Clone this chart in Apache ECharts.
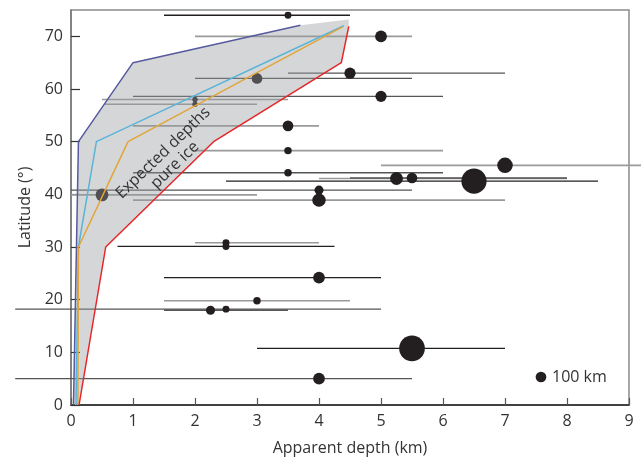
<!DOCTYPE html>
<html>
<head>
<meta charset="utf-8">
<script src="https://cdn.jsdelivr.net/npm/echarts@6/dist/echarts.min.js"></script>
<style>
  html, body { margin: 0; padding: 0; background: #fff; }
  #chart { width: 641px; height: 460px; }
</style>
</head>
<body>
<div id="chart"></div>
<script>
// crater measurements: apparent depth (km), latitude (deg), diameter (km), depth range
const craterDepth = [3.5, 5.0, 4.5, 3.0, 5.0, 2.0, 2.0, 3.5, 3.5, 7.0, 3.5, 5.25, 5.5, 6.5, 4.0, 0.5, 4.0, 2.5, 2.5, 4.0, 3.0, 2.25, 2.5, 5.5, 4.0];
const craterLat   = [74.0, 70.0, 63.0, 62.0, 58.6, 58.0, 57.1, 53.0, 48.3, 45.5, 44.1, 43.0, 43.1, 42.5, 40.8, 39.9, 38.9, 30.8, 30.1, 24.2, 19.8, 18.0, 18.2, 10.75, 5.0];
const craterDiam  = [65, 110, 105, 100, 105, 50, 50, 100, 70, 145, 70, 120, 100, 235, 85, 120, 125, 65, 65, 110, 70, 85, 65, 240, 110];
const depthLo     = [1.5, 2.0, 3.5, 2.0, 1.0, 0.5, 0.55, 1.0, 2.0, 5.0, 1.0, 4.0, 4.5, 2.5, 0.0, 0.0, 1.0, 2.0, 0.75, 1.5, 1.5, 1.5, -0.9, 3.0, -0.9];
const depthHi     = [4.5, 5.5, 7.0, 5.5, 6.0, 3.5, 3.0, 4.0, 6.0, 9.3, 6.0, 8.0, 8.0, 8.5, 5.5, 3.0, 7.0, 4.0, 4.25, 5.0, 4.5, 3.5, 5.0, 7.0, 5.5];
// range quality class: k / d / g
const rangeClass  = ['k', 'g', 'd', 'd', 'd', 'g', 'g', 'g', 'g', 'g', 'd', 'g', 'd', 'k', 'd', 'g', 'g', 'g', 'k', 'k', 'g', 'k', 'd', 'k', 'd'];

// expected depths for pure ice (four model curves)
const curveA = [[0.04, 0], [0.12, 50], [1.0, 65], [3.7, 72.1]];
const curveB = [[0.08, 0], [0.12, 30], [0.41, 50], [4.4, 72.0]];
const curveC = [[0.11, 0], [0.12, 30], [0.92, 50], [4.38, 71.8]];
const curveD = [[0.13, 0], [0.56, 30], [2.3, 50], [4.36, 65], [4.48, 71.9]];
const envelopeTop = [4.48, 73.2];

const xTicks = [0, 1, 2, 3, 4, 5, 6, 7, 8, 9];
const yTicks = [0, 10, 20, 30, 40, 50, 60, 70];
const legendKm = 100;

const pxPerKm = 0.107; // dot diameter scale
const font = '"Open Sans", "Noto Sans", sans-serif';
const rangeColors = { k: '#231f20', d: '#555555', g: '#9a9a9a' };

const myChart = echarts.init(document.getElementById('chart'));

const rangeData = craterDepth.map((d, i) => [depthLo[i], depthHi[i], craterLat[i], rangeClass[i]]);
const dotData = craterDepth.map((d, i) => [d, craterLat[i], craterDiam[i]]);
const envelope = curveA.concat([envelopeTop], curveD.slice().reverse());

const curveLine = (data, color) => ({
  type: 'line',
  data: data,
  showSymbol: false,
  z: 5,
  lineStyle: { color: color, width: 1.5 },
  silent: true
});

const option = {
  animation: false,
  grid: {
    left: 71, right: 12, top: 10, bottom: 55,
    outerBoundsMode: 'none',
    show: true, borderColor: '#8a8a8a', borderWidth: 1.5
  },
  xAxis: {
    type: 'value',
    min: 0, max: 9, interval: 1,
    name: 'Apparent depth (km)',
    nameLocation: 'middle',
    nameGap: 35,
    nameTextStyle: { fontFamily: font, fontSize: 16, color: '#333' },
    axisLine: { show: true, onZero: false, lineStyle: { color: '#231f20', width: 1.5 } },
    axisTick: { show: true, inside: true, length: 7, lineStyle: { color: '#555', width: 1.2 }, customValues: xTicks },
    axisLabel: { fontFamily: font, fontSize: 16, color: '#333', margin: 8, customValues: xTicks },
    splitLine: { show: false }
  },
  yAxis: {
    type: 'value',
    min: 0, max: 75, interval: 10,
    name: 'Latitude (°)',
    nameLocation: 'middle',
    nameGap: 38,
    nameTextStyle: { fontFamily: font, fontSize: 16, color: '#333' },
    axisLine: { show: true, onZero: false, lineStyle: { color: '#777', width: 1.5 } },
    axisTick: { show: true, inside: true, length: 9, lineStyle: { color: '#333', width: 1.2 }, customValues: yTicks },
    axisLabel: { fontFamily: font, fontSize: 16, color: '#333', margin: 8, customValues: yTicks },
    splitLine: { show: false }
  },
  series: [
    {
      // depth ranges
      type: 'custom',
      z: 2,
      silent: true,
      clip: false,
      data: rangeData,
      encode: { x: [0, 1], y: 2 },
      renderItem: (params, api) => {
        const p1 = api.coord([api.value(0), api.value(2)]);
        const p2 = api.coord([api.value(1), api.value(2)]);
        const cls = rangeData[params.dataIndex][3];
        return {
          type: 'line',
          shape: { x1: p1[0], y1: p1[1], x2: p2[0], y2: p2[1] },
          style: { stroke: rangeColors[cls], lineWidth: cls === 'g' ? 1.6 : 1.3 }
        };
      }
    },
    {
      type: 'scatter',
      z: 3,
      silent: true,
      data: dotData,
      symbol: 'circle',
      symbolSize: (val) => val[2] * pxPerKm,
      itemStyle: { color: '#231f20', opacity: 1 }
    },
    {
      // shaded envelope of expected depths
      type: 'custom',
      z: 4,
      silent: true,
      data: [0],
      renderItem: (params, api) => ({
        type: 'polygon',
        shape: { points: envelope.map(p => api.coord(p)) },
        style: { fill: 'rgba(150,152,156,0.4)', stroke: 'none' }
      })
    },
    curveLine(curveA, '#565a9e'),
    curveLine(curveB, '#5bb4d8'),
    curveLine(curveC, '#e2a53a'),
    curveLine(curveD, '#e8262a')
  ],
  graphic: [
    {
      type: 'text',
      x: 169, y: 159,
      rotation: 44 * Math.PI / 180,
      z: 10,
      style: {
        text: 'Expected depths\npure ice',
        fontFamily: font, fontSize: 16, fill: '#333',
        align: 'center', verticalAlign: 'middle', lineHeight: 17
      }
    },
    {
      type: 'circle',
      shape: { cx: 541, cy: 377, r: legendKm * pxPerKm / 2 },
      style: { fill: '#231f20' },
      z: 10
    },
    {
      type: 'text',
      x: 552, y: 377,
      z: 10,
      style: {
        text: legendKm + ' km',
        fontFamily: font, fontSize: 16, fill: '#333',
        align: 'left', verticalAlign: 'middle'
      }
    }
  ]
};

myChart.setOption(option);
window.addEventListener('resize', () => myChart.resize());
</script>
</body>
</html>
